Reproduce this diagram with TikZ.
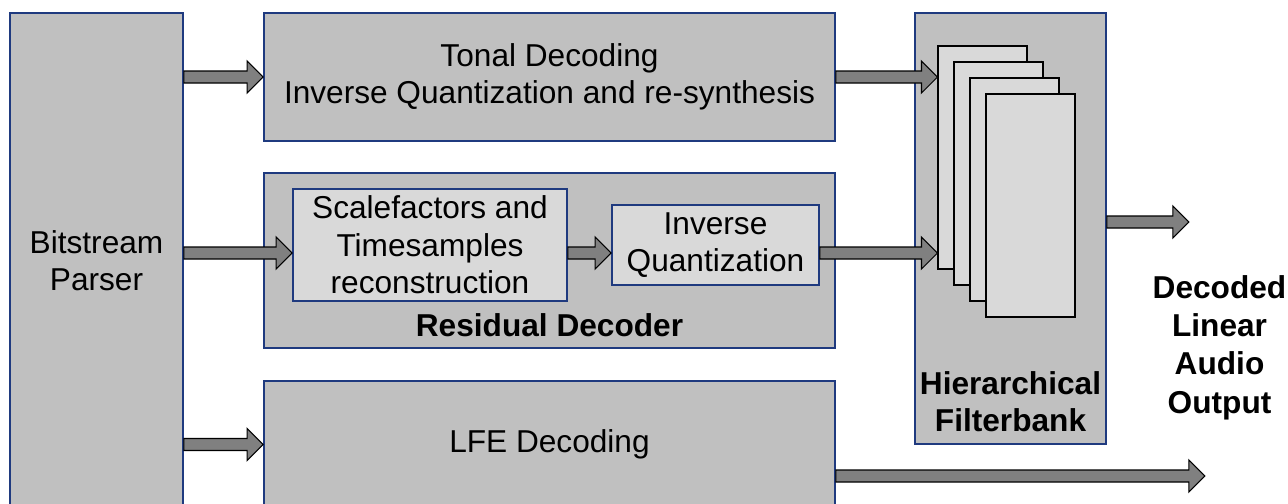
\documentclass[tikz,border=0pt]{standalone}
\usepackage{fontspec}
\setmainfont{Liberation Sans}
\usepackage{tikz}
\usetikzlibrary{calc,positioning}
\definecolor{blockgray}{HTML}{C0C0C0}
\definecolor{innergray}{HTML}{D9D9D9}
\definecolor{arrowgray}{HTML}{808080}
\definecolor{edgeblue}{HTML}{1F3A7F}

\tikzset{
  block/.style={draw=edgeblue, line width=0.9pt, fill=blockgray,
                align=center, inner sep=0pt},
  subblock/.style={draw=edgeblue, line width=0.9pt, fill=innergray,
                   align=center, inner sep=0pt},
  page/.style={draw=black, line width=0.6pt, fill=innergray,
               minimum width=1.78cm, minimum height=4.46cm, inner sep=0pt},
  blockarr/.style={draw=black, line width=0.6pt, fill=arrowgray},
  txt/.style={font=\fontsize{18}{21.4}\selectfont, align=center},
  btxt/.style={font=\fontsize{18}{21.2}\selectfont\bfseries, align=center}
}

% wide grey arrow from #1 to the x of #2
\newcommand{\blockarrow}[2]{%
  \draw[blockarr] let \p1=#1, \p2=#2 in
    (\x1,\y1+0.12cm) -- (\x2-0.32cm,\y1+0.12cm) -- (\x2-0.32cm,\y1+0.32cm)
    -- (\x2,\y1) -- (\x2-0.32cm,\y1-0.32cm) -- (\x2-0.32cm,\y1-0.12cm)
    -- (\x1,\y1-0.12cm) -- cycle;}

\begin{document}
\begin{tikzpicture}
    \useasboundingbox (0,0) rectangle (25.76,-10.06);

    \node[block, txt, minimum width=3.46cm, minimum height=9.9cm]
      (bp) at (1.93,-5.21) {Bitstream\\Parser};

    \node[block, txt, minimum width=11.42cm, minimum height=2.56cm]
      (tonal) at (10.99,-1.54) {Tonal Decoding\\Inverse Quantization and re-synthesis};

    \node[block, minimum width=11.42cm, minimum height=3.5cm]
      (resid) at (10.99,-5.21) {};
    \node[subblock, txt, minimum width=5.48cm, minimum height=2.24cm]
      (sf) at (8.6,-4.9) {Scalefactors and\\Timesamples\\reconstruction};
    \node[subblock, txt, minimum width=4.14cm, minimum height=1.6cm]
      (iq) at (14.31,-4.9) {Inverse\\Quantization};
    \node[btxt] (residlabel) at (10.99,-6.5) {Residual Decoder};

    \node[block, txt, minimum width=11.42cm, minimum height=2.54cm]
      (lfe) at (10.99,-8.89) {LFE Decoding};

    \node[block, minimum width=3.82cm, minimum height=8.62cm]
      (fb) at (20.21,-4.57) {};
    \foreach \k in {0,...,3}
      \node[page] (pg\k) at ({19.65+0.32*\k},{-3.15-0.32*\k}) {};
    \node[btxt] (fblabel) at (20.21,-8.03) {Hierarchical\\Filterbank};

    \node[btxt, font=\fontsize{18}{21.8}\selectfont\bfseries]
      (outtxt) at (24.39,-6.95) {Decoded\\Linear\\Audio\\Output};

    % arrow ends
    \coordinate (rin) at ([yshift=-0.16cm]sf.west);
    \coordinate (fbout) at ([yshift=0.13cm]fb.east);
    \coordinate (out1) at ([xshift=1.64cm]fbout);
    \coordinate (lfeout) at ([yshift=-0.63cm]lfe.east);
    \coordinate (out2) at ([xshift=7.38cm]lfeout);

    \blockarrow{(bp.east |- tonal.west)}{(tonal.west)}
    \blockarrow{(tonal.east)}{(pg0.west |- tonal.east)}
    \blockarrow{(bp.east |- rin)}{(rin)}
    \blockarrow{(sf.east |- rin)}{(iq.west |- rin)}
    \blockarrow{(iq.east |- rin)}{(pg0.west |- rin)}
    \blockarrow{(fbout)}{(out1)}
    \blockarrow{(bp.east |- lfe.west)}{(lfe.west)}
    \blockarrow{(lfeout)}{(out2)}
\end{tikzpicture}
\end{document}
